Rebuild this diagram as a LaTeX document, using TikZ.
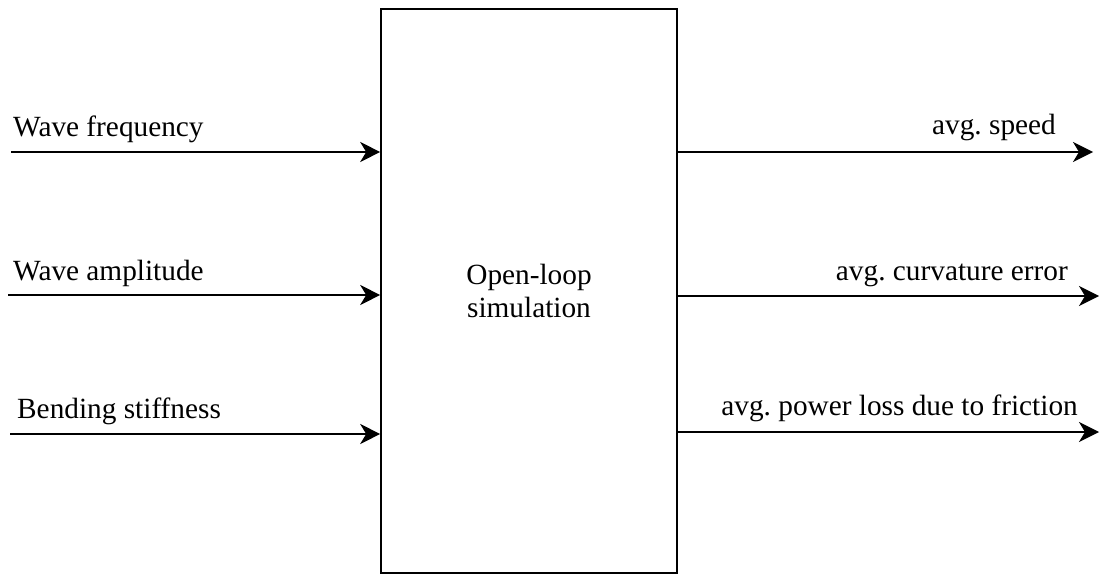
\documentclass[tikz,border=0pt]{standalone}
\usepackage{fontspec}
\setmainfont{Liberation Serif}
\usetikzlibrary{arrows.meta}
\frenchspacing
\begin{document}
\begin{tikzpicture}[x=1pt,y=-1pt,
  lbl/.style={inner sep=0pt, font=\fontsize{29.3}{33}\selectfont},
  flow/.style={line width=2.2pt, -{Stealth[length=20pt,width=20pt,inset=6pt]}},
  block/.style={draw, line width=1.6pt, minimum width=296pt, minimum height=564pt,
    align=center, font=\fontsize{29.3}{33}\selectfont}]
\useasboundingbox (0,0) rectangle (1100,575);

% central block
\node[block] (sim) at (529,291) {Open-loop\\simulation};

% input starts
\coordinate (in1) at (11,152);
\coordinate (in2) at (8,295);
\coordinate (in3) at (10,434);

% output ends
\coordinate (out1) at (1093,152);
\coordinate (out2) at (1099,296);
\coordinate (out3) at (1099,432);

% inputs
\draw[flow] (in1) -- (in1 -| sim.west);
\draw[flow] (in2) -- (in2 -| sim.west);
\draw[flow] (in3) -- (in3 -| sim.west);

% outputs
\draw[flow] (out1 -| sim.east) -- (out1);
\draw[flow] (out2 -| sim.east) -- (out2);
\draw[flow] (out3 -| sim.east) -- (out3);

% input labels
\node[lbl, anchor=base west] (l1) at (13,137) {Wave frequency};
\node[lbl, anchor=base west] (l2) at (13,280) {Wave amplitude};
\node[lbl, anchor=base west] (l3) at (17,418) {Bending stiffness};

% output labels
\node[lbl, anchor=base east] (r1) at (1056,135) {avg. speed};
\node[lbl, anchor=base east] (r2) at (1068,280) {avg. curvature error};
\node[lbl, anchor=base east] (r3) at (1078,415) {avg. power loss due to friction};
\end{tikzpicture}
\end{document}
